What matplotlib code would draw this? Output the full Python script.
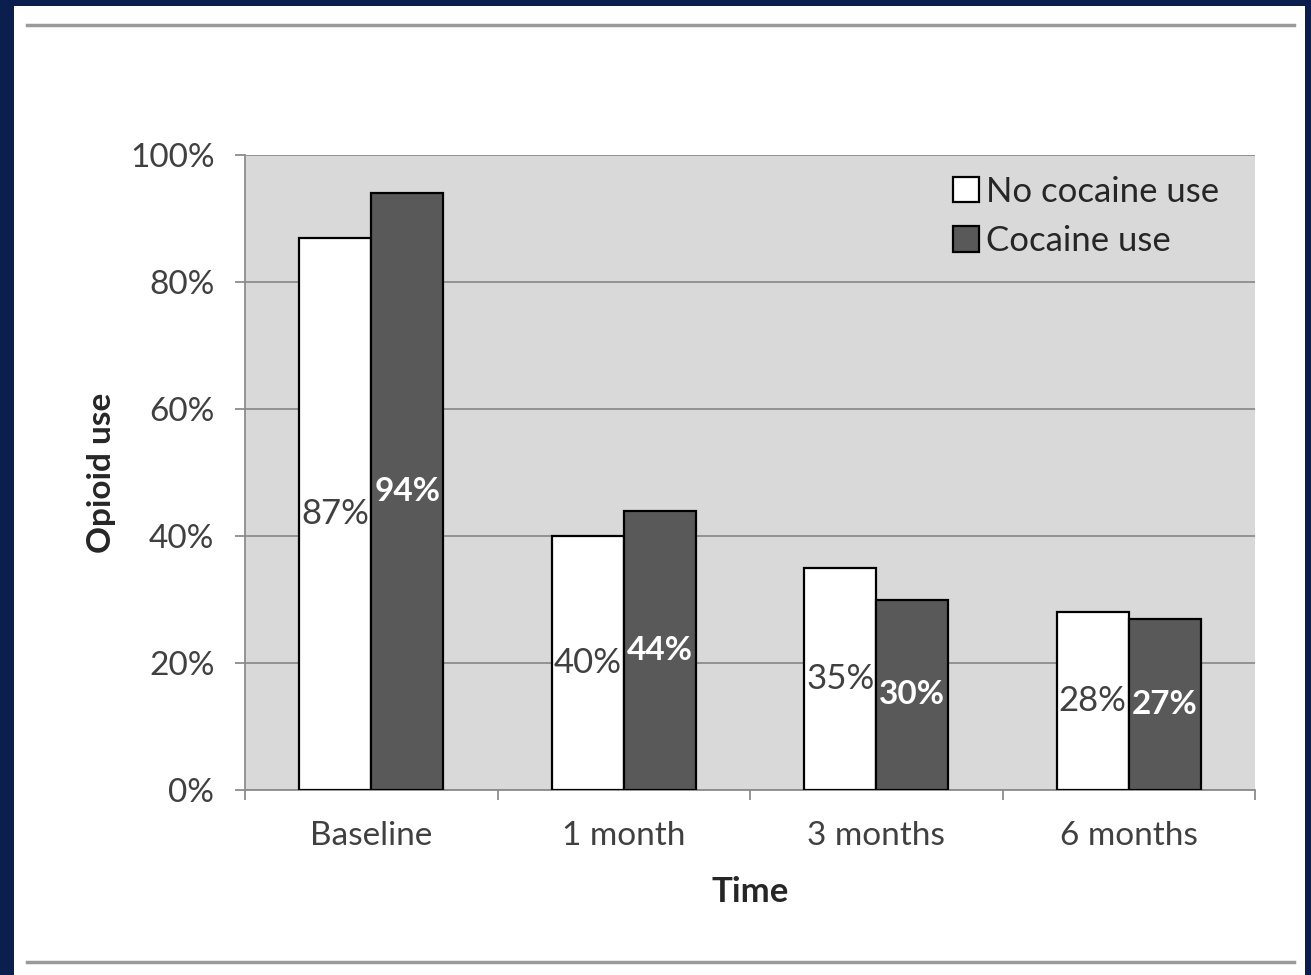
import matplotlib.pyplot as plt
from matplotlib.patches import Rectangle
from matplotlib.lines import Line2D
import numpy as np

plt.rcParams['font.family'] = ['Lato', 'DejaVu Sans']

categories = ["Baseline", "1 month", "3 months", "6 months"]
no_cocaine = [87, 40, 35, 28]
cocaine = [94, 44, 30, 27]
series_names = ["No cocaine use", "Cocaine use"]
y_ticks = [0, 20, 40, 60, 80, 100]

W, H = 1311, 975
fig = plt.figure(figsize=(W / 100, H / 100), dpi=100)
fig.patch.set_facecolor("#0b1f4e")

# white slide panel inside the navy frame
fig.patches.append(Rectangle((14 / W, 0), (1305 - 14) / W, (H - 6) / H,
                             transform=fig.transFigure, facecolor="white",
                             edgecolor="none", zorder=-10))
# grey rules above and below the chart
for yy in (25, 962):
    fig.lines.append(Line2D([27 / W, 1294 / W], [1 - yy / H, 1 - yy / H],
                            transform=fig.transFigure, color="#9a9a9a", lw=2.5,
                            zorder=-5))

ax = fig.add_axes([245 / W, (H - 790) / H, 1010 / W, 635 / H])
ax.set_facecolor("#d9d9d9")

x = np.arange(len(categories))
bw = 0.285
off = 0.143
b1 = ax.bar(x - off, no_cocaine, bw, color="white", edgecolor="black", lw=1.6, zorder=3)
b2 = ax.bar(x + off, cocaine, bw, color="#595959", edgecolor="black", lw=1.6, zorder=3)

for rect, v in zip(b1, no_cocaine):
    ax.text(rect.get_x() + rect.get_width() / 2, v / 2, f"{v}%", ha="center", va="center",
            fontsize=25, color="#404040", zorder=4)
for rect, v in zip(b2, cocaine):
    ax.text(rect.get_x() + rect.get_width() / 2, v / 2, f"{v}%", ha="center", va="center",
            fontsize=24, color="white", fontweight="bold", zorder=4)

ax.set_xlim(-0.5, len(categories) - 0.5)
ax.set_ylim(0, 100)
ax.set_yticks(y_ticks)
ax.set_yticklabels([f"{t}%" for t in y_ticks], fontsize=24, color="#404040")
ax.yaxis.grid(True, color="#8c8c8c", lw=1.3, zorder=1)
ax.set_axisbelow(True)

ax.set_xticks(x)
ax.set_xticklabels(categories, fontsize=24, color="#404040")
ax.tick_params(axis="x", length=0, pad=22)
# category separators below the axis
ax.set_xticks(np.arange(-0.5, len(categories)), minor=True)
ax.tick_params(axis="x", which="minor", length=7, width=1.3, color="#8c8c8c")
ax.tick_params(axis="y", length=7, width=1.3, color="#8c8c8c", pad=15)

for s in ("top", "right"):
    ax.spines[s].set_visible(False)
for s in ("left", "bottom"):
    ax.spines[s].set_color("#8c8c8c")
    ax.spines[s].set_linewidth(1.3)

ax.set_xlabel("Time", fontsize=25, fontweight="bold", color="#262626", labelpad=18)
ax.set_ylabel("Opioid use", fontsize=24, fontweight="bold", color="#262626", labelpad=10)

ax.legend([b1, b2], series_names, loc="upper right", frameon=False, fontsize=25,
          handlelength=0.75, handleheight=0.75, handletextpad=0.2, labelspacing=0.5,
          borderaxespad=0.3, borderpad=0.3, labelcolor="#262626",
          bbox_to_anchor=(0.985, 1.0))

fig.savefig("out.png", dpi=100, facecolor=fig.get_facecolor())
